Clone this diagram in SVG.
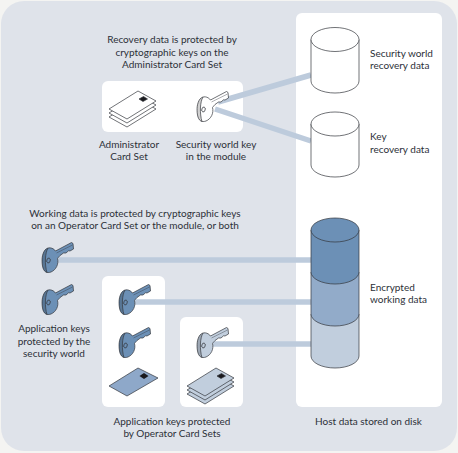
<svg xmlns="http://www.w3.org/2000/svg" xmlns:xlink="http://www.w3.org/1999/xlink" width="458" height="453" viewBox="0 0 458 453">
<style>
text{font-family:"Lato","Liberation Sans",sans-serif;font-size:10px;fill:#2c3038}
.m{text-anchor:middle}
.box{fill:#fff}
.c{fill:none;stroke:#bdcbdc;stroke-width:5.5}
.o{stroke:#33363c;stroke-width:.7;stroke-linejoin:round}
.chip{fill:#1a1a1e}
</style>
<defs>
<g id="keyshape">
<path d="M3 8C6 4.500 11 5.500 13.500 9L29.500 .5 31 1.500 31.500 7 28 9 26.500 8.800 24 11 21.500 11 18 13.500C17 15 16 15.500 15.500 16.500 17 22 14 28 9 30 5 31.500 1.500 30 .5 24-.5 18 0 12 3 8Z"/>
<path d="M6 6C3 11 2.500 22 5 30.800 1.500 30 .5 24 .5 24-.5 18 0 12 3 8Z" fill="#000" fill-opacity=".18" stroke="none"/>
<path d="M6 6C3 11 2.500 22 5 30.800" fill="none"/>
<path d="M14.500 11 30.500 3" fill="none" stroke-width=".4"/>
<ellipse cx="6.500" cy="18.500" rx="1.700" ry="2.500" transform="rotate(15 6.500 18.500)" fill="none"/>
</g>
<g id="stackface">
<path d="M0 18 29 0 47 10 18 28Z"/>
</g>
<g id="stack">
<use xlink:href="#stackface" y="8"/>
<use xlink:href="#stackface" y="4"/>
<use xlink:href="#stackface"/>
<path class="chip" d="M30 8 34.500 5.500 38.500 8 34 10.500Z"/>
</g>
</defs>
<rect id="bg" width="458" height="453" fill="#f4f4f2"/>
<rect id="panel" x="1" y="1" width="456" height="450" rx="23" fill="#dfe3ea"/>
<rect id="panel-admin" class="box" x="102" y="81" width="141" height="51" rx="6"/>
<rect id="panel-host" class="box" x="296" y="13" width="146" height="394" rx="6"/>
<rect id="panel-ocs" class="box" x="102" y="276" width="63" height="131" rx="6"/>
<rect id="panel-ocs2" class="box" x="180" y="317" width="63" height="90" rx="6"/>
<g id="connectors">
<path class="c" d="M218 102 311 75"/>
<path class="c" d="M215 109 311 141"/>
<path class="c" d="M58 260H311"/>
<path class="c" d="M135 302H311"/>
<path class="c" d="M213 344H311"/>
</g>
<g id="note-recovery">
<text class="m" x="172" y="43">Recovery data is protected by</text>
<text class="m" x="172" y="55.500">cryptographic keys on the</text>
<text class="m" x="172" y="68">Administrator Card Set</text>
</g>
<g id="admin-card-set">
<use xlink:href="#stack" x="109" y="91" fill="#fff" class="o"/>
<text class="m" x="129" y="148">Administrator</text>
<text class="m" x="129" y="160">Card Set</text>
</g>
<g id="security-world-key">
<use xlink:href="#keyshape" x="197" y="91" fill="#fff" class="o"/>
<text class="m" x="216" y="148">Security world key</text>
<text class="m" x="216" y="160">in the module</text>
</g>
<g id="db-world">
<path d="M311 39.500V81A24 12 0 0 0 359 81V39.500Z" fill="#fff" class="o"/>
<ellipse cx="335" cy="39.500" rx="24" ry="12" fill="#fff" class="o"/>
<text x="370" y="57">Security world</text>
<text x="370" y="69">recovery data</text>
</g>
<g id="db-key">
<path d="M311 124V165A24 12 0 0 0 359 165V124Z" fill="#fff" class="o"/>
<ellipse cx="335" cy="124" rx="24" ry="12" fill="#fff" class="o"/>
<text x="370" y="140">Key</text>
<text x="370" y="153">recovery data</text>
</g>
<g id="note-working">
<text class="m" x="135" y="217">Working data is protected by cryptographic keys</text>
<text class="m" x="135" y="229">on an Operator Card Set or the module, or both</text>
</g>
<g id="db-working">
<path d="M311 314V356A24 12 0 0 0 359 356V314Z" fill="#c1cedd" class="o"/>
<path d="M311 272V314A24 12 0 0 0 359 314V272Z" fill="#92abc9" class="o"/>
<path d="M311 230V272A24 12 0 0 0 359 272V230Z" fill="#6c90b6" class="o"/>
<ellipse cx="335" cy="230" rx="24" ry="12" fill="#6c90b6" class="o"/>
<text x="370" y="291">Encrypted</text>
<text x="370" y="303">working data</text>
</g>
<g id="key-module">
<use xlink:href="#keyshape" x="42" y="242" fill="#6c90b6" class="o"/>
</g>
<g id="key-app">
<use xlink:href="#keyshape" x="42" y="284" fill="#6c90b6" class="o"/>
<text class="m" x="54" y="332">Application keys</text>
<text class="m" x="54" y="344.500">protected by the</text>
<text class="m" x="54" y="357">security world</text>
</g>
<g id="ocs-single">
<use xlink:href="#keyshape" x="119" y="284" fill="#6c90b6" class="o"/>
<use xlink:href="#keyshape" x="119" y="327" fill="#6c90b6" class="o"/>
<path d="M109 386 138 368 158 378 127 396Z" fill="#8ea8c9" class="o"/>
<path class="chip" d="M139.500 376 144 373 148.500 376 144 379Z"/>
</g>
<g id="ocs-set">
<use xlink:href="#keyshape" x="197" y="327" fill="#c1cedd" class="o"/>
<use xlink:href="#stack" x="187" y="368" fill="#c1cedd" class="o"/>
</g>
<g id="note-ocs">
<text class="m" x="172" y="425">Application keys protected</text>
<text class="m" x="172" y="437">by Operator Card Sets</text>
</g>
<g id="note-host">
<text x="315" y="425">Host data stored on disk</text>
</g>
</svg>
